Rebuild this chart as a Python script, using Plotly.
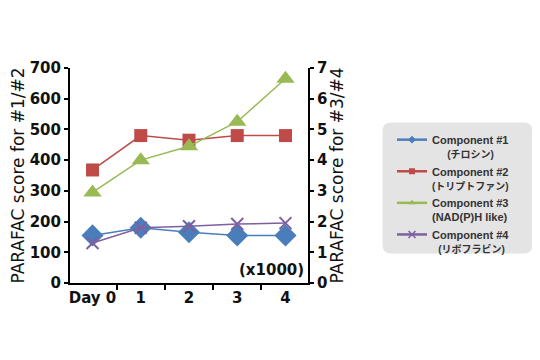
import plotly.graph_objects as go

days = ["Day 0", "1", "2", "3", "4"]
comp1 = [155, 180, 165, 155, 155]        # left axis
comp2 = [368, 480, 465, 480, 480]        # left axis
comp3 = [2.95, 4.0, 4.45, 5.25, 6.65]    # right axis (x1000)
comp4 = [1.30, 1.80, 1.85, 1.92, 1.95]   # right axis (x1000)
line1 = ["Component #1", "Component #2", "Component #3", "Component #4"]
line2 = ["(チロシン)", "(トリプトファン)", "(NAD(P)H like)", "(リボフラビン)"]
line2_cjk = [True, True, False, True]
pad2 = [5, 0, 0, 2]

colors = ["#4a7ebb", "#be4b48", "#98b954", "#7d60a0"]
symbols = ["diamond", "square", "triangle-up", "x-thin"]
sizes = [17, 13, 16, 12]
axes = ["y", "y", "y2", "y2"]
series = [comp1, comp2, comp3, comp4]
FONT = "DejaVu Sans, Noto Sans CJK JP"

def legend_name(i):
    sec = line2[i]
    if line2_cjk[i]:
        sec = f'<span style="font-size:10px">{sec}</span>'
    return line1[i] + "<br>" + "\u00a0" * pad2[i] + sec

fig = go.Figure()
for i in range(4):
    mk = dict(symbol=symbols[i], size=sizes[i], color=colors[i])
    if symbols[i] == "x-thin":
        mk["line"] = dict(color=colors[i], width=2)
    fig.add_trace(go.Scatter(x=days, y=series[i], name=line1[i], mode="lines+markers",
                             yaxis=axes[i], showlegend=False,
                             line=dict(color=colors[i], width=1.5), marker=mk))
# legend entries with small symbols (as in the reference legend)
for i in range(4):
    mk = dict(symbol=symbols[i], size=6, color=colors[i])
    if symbols[i] == "x-thin":
        mk["line"] = dict(color=colors[i], width=1.5)
        mk["size"] = 7
    fig.add_trace(go.Scatter(x=[None], y=[None], name=legend_name(i), mode="lines+markers",
                             yaxis=axes[i], line=dict(color=colors[i], width=2.5), marker=mk))

OX, OY = 8, 8  # page body offset
L, T, PW, PH = 70 - OX, 68 - OY, 238, 215
R = 540 - L - PW
B = 360 - T - PH

def px2paper(x, y):
    return (x - OX - L) / PW, (T + PH - (y - OY)) / PH

x0, y0 = px2paper(383, 123)
x1, y1 = px2paper(532, 253)
rx, ry = 8 / PW, 8 / PH
path = (f"M {x0+rx},{y0} L {x1-rx},{y0} Q {x1},{y0} {x1},{y0-ry} "
        f"L {x1},{y1+ry} Q {x1},{y1} {x1-rx},{y1} L {x0+rx},{y1} "
        f"Q {x0},{y1} {x0},{y1+ry} L {x0},{y0-ry} Q {x0},{y0} {x0+rx},{y0} Z")
fig.add_shape(type="path", path=path, xref="paper", yref="paper",
              fillcolor="#e4e4e4", line=dict(color="#e4e4e4", width=1), layer="below")

lx, ly = px2paper(392, 126)
fig.update_layout(
    width=540, height=360,
    margin=dict(l=L, r=R, t=T, b=B),
    plot_bgcolor="white", paper_bgcolor="white",
    font=dict(family=FONT, color="#111"),
    showlegend=True,
    legend=dict(x=lx, y=ly, xanchor="left", yanchor="top",
                bgcolor="rgba(0,0,0,0)",
                font=dict(size=11, family="Liberation Sans, Noto Sans CJK JP", color="#333", weight="bold"),
                valign="top", tracegroupgap=0, itemwidth=30),
    xaxis=dict(type="category", showline=True, linecolor="black", linewidth=2,
               ticks="outside", tickson="boundaries", ticklen=5, tickwidth=2, tickcolor="black",
               tickangle=0, automargin=False,
               tickfont=dict(size=15, weight="bold", family=FONT), showgrid=False, zeroline=False),
    yaxis=dict(range=[0, 700], dtick=100, showline=True, linecolor="black", linewidth=2,
               ticks="outside", ticklen=4, tickwidth=2, tickcolor="black", automargin=False,
               tickfont=dict(size=15, weight="bold", family=FONT), showgrid=False, zeroline=False,
               title=dict(text="PARAFAC score for #1/#2", font=dict(size=17, family=FONT), standoff=8)),
    yaxis2=dict(range=[0, 7], dtick=1, overlaying="y", side="right", showline=True,
                linecolor="black", linewidth=2, ticks="outside", ticklen=4, tickwidth=2,
                tickcolor="black", tickfont=dict(size=15, weight="bold", family=FONT),
                showgrid=False, zeroline=False, automargin=False,
                title=dict(text="PARAFAC score for #3/#4", font=dict(size=17, family=FONT), standoff=4)),
)
fig.add_annotation(text="(x1000)", xref="paper", yref="paper", x=0.99, y=0.06,
                   xanchor="right", yanchor="middle", showarrow=False,
                   font=dict(size=15, weight="bold", family=FONT))

fig.write_html("out.html")
